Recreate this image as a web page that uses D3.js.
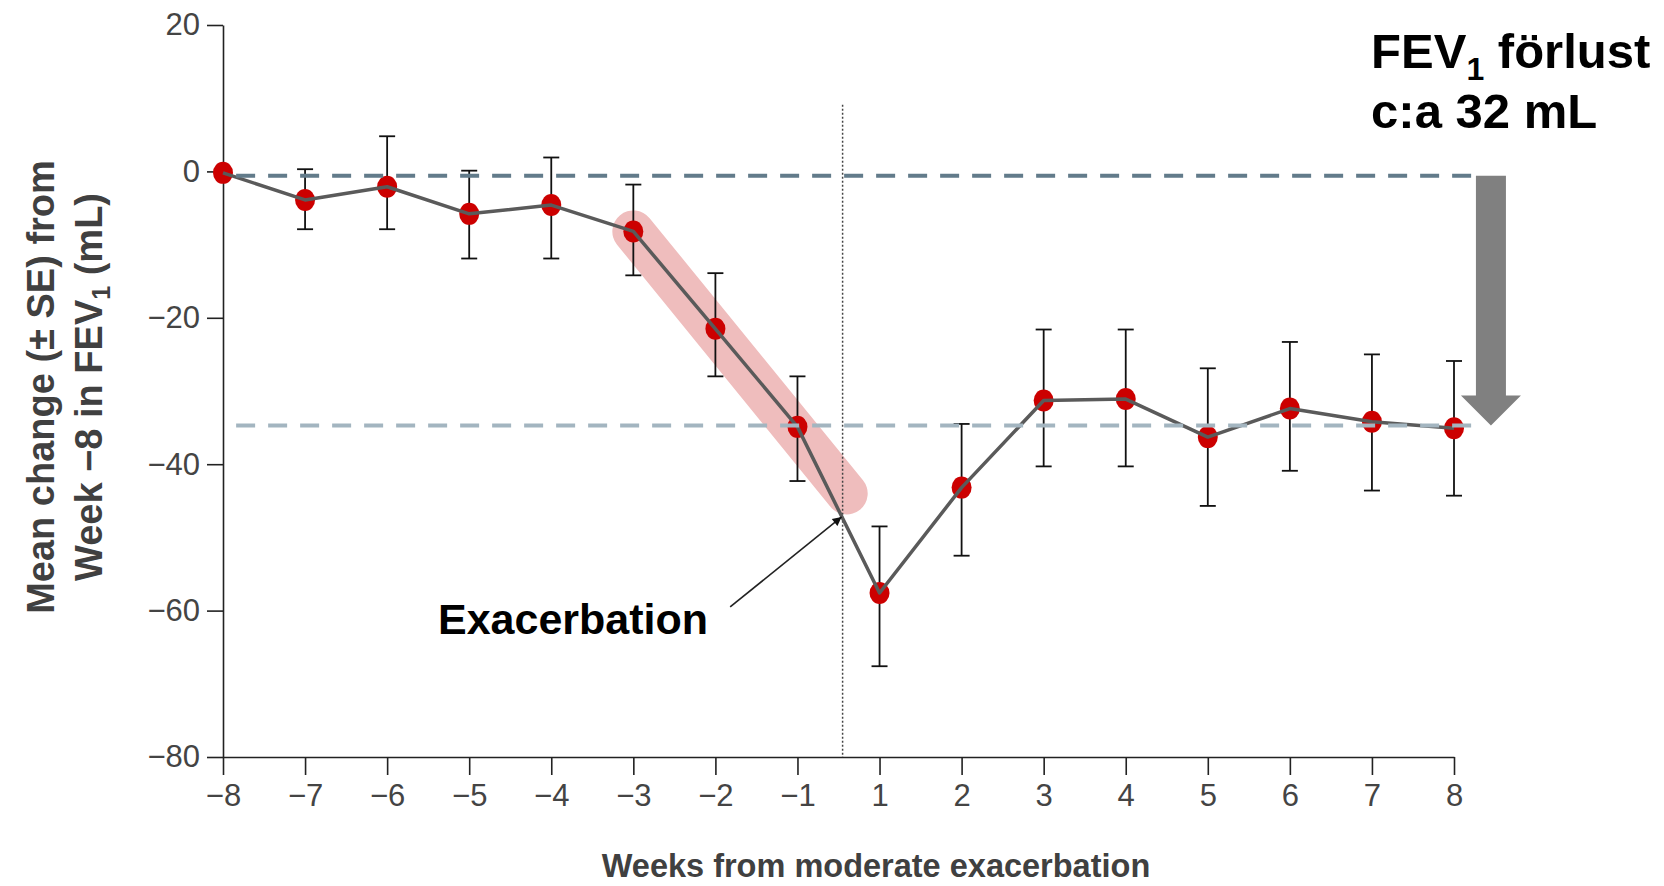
<!DOCTYPE html>
<html>
<head>
<meta charset="utf-8">
<script src="https://cdn.jsdelivr.net/npm/d3@7"></script>
<style>
  body { margin: 0; background: #fff; }
  svg { display: block; font-family: "Liberation Sans", Arial, sans-serif; }
</style>
</head>
<body>
<div id="container"></div>
<script>
/* CONSTANTS AND GLOBALS */
const width = 1664;
const height = 886;

/* DATA */
const weeks = [-8, -7, -6, -5, -4, -3, -2, -1, 1, 2, 3, 4, 5, 6, 7, 8];
const meanChange = [-0.2, -3.9, -2.1, -5.8, -4.6, -8.2, -21.5, -34.9, -57.6, -43.2, -31.3, -31.1, -36.3, -32.4, -34.2, -35.1];
const seUpper = [-0.2, 0.3, 4.8, 0.1, 1.9, -1.8, -13.9, -28.0, -48.5, -34.5, -21.6, -21.6, -26.9, -23.3, -25.0, -25.9];
const seLower = [-0.2, -7.9, -7.9, -11.9, -11.9, -14.2, -28.0, -42.3, -67.6, -52.5, -40.3, -40.3, -45.7, -40.9, -43.6, -44.3];
const yTicks = [20, 0, -20, -40, -60, -80];
const baselineLevel = -0.6;   // dark dashed line
const plateauLevel = -34.7;   // light dashed line
const exacerbationPos = -0.45; // slot between week -1 and week 1

const data = weeks.map((w, i) => ({ week: w, mean: meanChange[i], hi: seUpper[i], lo: seLower[i] }));

// weeks skip 0, so each week sits in its own equally spaced slot
const slot = w => (w < 0 ? w : w - 1);

/* SCALES */
const xScale = d3.scaleLinear().domain([-8, 7]).range([223, 1454]);
const yScale = d3.scaleLinear().domain([-80, 20]).range([757, 25]);

/* SVG ELEMENT */
const svg = d3.select("#container")
  .append("svg")
  .attr("width", width)
  .attr("height", height);

/* HIGHLIGHT BAND */
svg.append("line")
  .attr("x1", xScale(slot(-3)))
  .attr("y1", yScale(-8.2))
  .attr("x2", xScale(-0.4))
  .attr("y2", yScale(-44))
  .attr("stroke", "#efbdbd")
  .attr("stroke-width", 42)
  .attr("stroke-linecap", "round");

/* EXACERBATION MARKER */
svg.append("line")
  .attr("x1", xScale(exacerbationPos))
  .attr("x2", xScale(exacerbationPos))
  .attr("y1", yScale(9.1))
  .attr("y2", yScale(-80))
  .attr("stroke", "#444")
  .attr("stroke-width", 1.5)
  .attr("stroke-dasharray", "2,2");

/* AXES */
const xAxis = d3.axisBottom(xScale)
  .tickValues(weeks.map(slot))
  .tickFormat((d, i) => d3.format("d")(weeks[i]))
  .tickSize(18)
  .tickSizeOuter(0)
  .tickPadding(9);

const yAxis = d3.axisLeft(yScale)
  .tickValues(yTicks)
  .tickFormat(d3.format("d"))
  .tickSize(16)
  .tickSizeOuter(0)
  .tickPadding(7);

const gx = svg.append("g")
  .attr("transform", `translate(0, ${yScale(-80)})`)
  .call(xAxis);

const gy = svg.append("g")
  .attr("transform", `translate(${xScale(-8)}, 0)`)
  .call(yAxis);

[gx, gy].forEach(g => {
  g.selectAll("path, line").attr("stroke", "#222").attr("stroke-width", 1.6);
  g.selectAll("text")
    .attr("font-size", 31)
    .attr("font-family", "Liberation Sans, Arial, sans-serif")
    .attr("fill", "#444");
});

/* ERROR BARS */
const capHalf = 8;
const bars = svg.append("g")
  .selectAll("g")
  .data(data.filter(d => d.hi !== d.lo))
  .join("g")
  .attr("stroke", "#111")
  .attr("stroke-width", 1.8);

bars.append("line")
  .attr("x1", d => xScale(slot(d.week)))
  .attr("x2", d => xScale(slot(d.week)))
  .attr("y1", d => yScale(d.hi))
  .attr("y2", d => yScale(d.lo));

bars.append("line")
  .attr("x1", d => xScale(slot(d.week)) - capHalf)
  .attr("x2", d => xScale(slot(d.week)) + capHalf)
  .attr("y1", d => yScale(d.hi))
  .attr("y2", d => yScale(d.hi));

bars.append("line")
  .attr("x1", d => xScale(slot(d.week)) - capHalf)
  .attr("x2", d => xScale(slot(d.week)) + capHalf)
  .attr("y1", d => yScale(d.lo))
  .attr("y2", d => yScale(d.lo));

/* DOTS */
svg.append("g")
  .selectAll("ellipse")
  .data(data)
  .join("ellipse")
  .attr("cx", d => xScale(slot(d.week)))
  .attr("cy", d => yScale(d.mean))
  .attr("rx", 10)
  .attr("ry", 11)
  .attr("fill", "#cc0000");

/* LINE */
const line = d3.line()
  .x(d => xScale(slot(d.week)))
  .y(d => yScale(d.mean));

svg.append("path")
  .datum(data)
  .attr("d", line)
  .attr("fill", "none")
  .attr("stroke", "#5a5a5a")
  .attr("stroke-width", 3.5)
  .attr("stroke-linejoin", "round");

/* REFERENCE LINES */
svg.append("line")
  .attr("x1", xScale(-7.84)).attr("x2", xScale(7.23))
  .attr("y1", yScale(baselineLevel)).attr("y2", yScale(baselineLevel))
  .attr("stroke", "#627b8a")
  .attr("stroke-width", 4)
  .attr("stroke-dasharray", "19,13");

svg.append("line")
  .attr("x1", xScale(-7.84)).attr("x2", xScale(7.23))
  .attr("y1", yScale(plateauLevel)).attr("y2", yScale(plateauLevel))
  .attr("stroke", "#a3b5c0")
  .attr("stroke-width", 4)
  .attr("stroke-dasharray", "19,13");

/* LOSS ARROW */
const ax = xScale(7.45);
const yTop = yScale(baselineLevel);
const yTip = yScale(plateauLevel);
svg.append("path")
  .attr("d", `M${ax - 15},${yTop} H${ax + 15} V${yTip - 30} H${ax + 30} L${ax},${yTip} L${ax - 30},${yTip - 30} H${ax - 15} Z`)
  .attr("fill", "#808080");

/* EXACERBATION CALLOUT */
svg.append("defs").append("marker")
  .attr("id", "head")
  .attr("viewBox", "0 0 10 10")
  .attr("refX", 10)
  .attr("refY", 5)
  .attr("markerWidth", 10)
  .attr("markerHeight", 9)
  .attr("markerUnits", "userSpaceOnUse")
  .attr("orient", "auto")
  .append("path")
  .attr("d", "M0,0 L10,5 L0,10 Z")
  .attr("fill", "#111");

svg.append("line")
  .attr("x1", xScale(-1.82))
  .attr("y1", yScale(-59.5))
  .attr("x2", xScale(exacerbationPos) - 1)
  .attr("y2", yScale(-47.2))
  .attr("stroke", "#222")
  .attr("stroke-width", 1.6)
  .attr("marker-end", "url(#head)");

svg.append("text")
  .attr("x", xScale(-5.38))
  .attr("y", yScale(-63.2))
  .attr("font-size", 43)
  .attr("font-weight", "bold")
  .attr("fill", "#000")
  .text("Exacerbation");

/* FEV1 LOSS LABEL */
const loss = svg.append("text")
  .attr("x", xScale(5.99))
  .attr("y", 68)
  .attr("font-size", 49)
  .attr("font-weight", "bold")
  .attr("fill", "#000");
loss.append("tspan").text("FEV");
loss.append("tspan").attr("font-size", 32).attr("dy", 12).text("1");
loss.append("tspan").attr("dy", -12).text(" förlust");

svg.append("text")
  .attr("x", xScale(5.99))
  .attr("y", 128)
  .attr("font-size", 49)
  .attr("font-weight", "bold")
  .attr("fill", "#000")
  .text("c:a 32 mL");

/* AXIS LABELS */
svg.append("text")
  .attr("x", 876)
  .attr("y", 877)
  .attr("text-anchor", "middle")
  .attr("font-size", 32.5)
  .attr("font-weight", "bold")
  .attr("fill", "#404040")
  .text("Weeks from moderate exacerbation");

const yTitle = svg.append("text")
  .attr("transform", "rotate(-90)")
  .attr("text-anchor", "middle")
  .attr("font-size", 38)
  .attr("font-weight", "bold")
  .attr("fill", "#404040");

yTitle.append("tspan")
  .attr("x", -387)
  .attr("y", 54)
  .text("Mean change (± SE) from");

const yLine2 = yTitle.append("tspan")
  .attr("x", -387)
  .attr("y", 102);
yLine2.append("tspan").text("Week −8 in FEV");
yLine2.append("tspan").attr("font-size", 25).attr("dy", 8).text("1");
yLine2.append("tspan").attr("dy", -8).text(" (mL)");
</script>
</body>
</html>
